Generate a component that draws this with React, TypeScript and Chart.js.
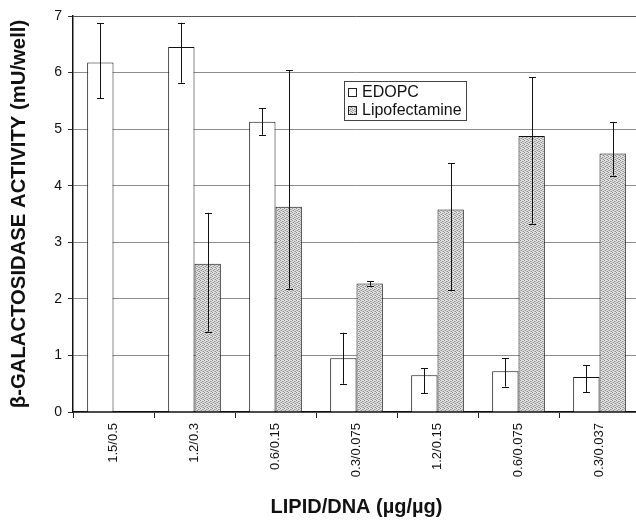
import React, { useEffect, useRef } from "react";
import { Chart, registerables } from "chart.js";

Chart.register(...registerables);

const categories = ["1.5/0.5", "1.2/0.3", "0.6/0.15", "0.3/0.075", "1.2/0.15", "0.6/0.075", "0.3/0.037"];
const edopcValues = [6.18, 6.45, 5.13, 0.95, 0.65, 0.72, 0.62];
const edopcLow = [5.55, 5.82, 4.9, 0.5, 0.33, 0.45, 0.35];
const edopcHigh = [6.87, 6.88, 5.37, 1.4, 0.77, 0.95, 0.83];
const lipoValues = [null, 2.62, 3.63, 2.27, 3.58, 4.88, 4.57];
const lipoLow = [null, 1.42, 2.18, 2.23, 2.15, 3.33, 4.18];
const lipoHigh = [null, 3.52, 6.04, 2.31, 4.4, 5.92, 5.12];
const yTicks = [0, 1, 2, 3, 4, 5, 6, 7];
const seriesNames = ["EDOPC", "Lipofectamine"];
const xTitle = "LIPID/DNA (\u00b5g/\u00b5g)";
const yTitle = "\u03b2-GALACTOSIDASE ACTIVITY (mU/well)";

function makePattern(): CanvasPattern | string {
  const c = document.createElement("canvas");
  c.width = 4;
  c.height = 4;
  const ctx = c.getContext("2d");
  if (!ctx) return "#c8c8c8";
  ctx.fillStyle = "#e0e0e0";
  ctx.fillRect(0, 0, 4, 4);
  ctx.fillStyle = "#909090";
  const dots = [[0, 0], [2, 1], [1, 2], [3, 3]];
  dots.forEach(([x, y]) => ctx.fillRect(x, y, 1, 1));
  ctx.fillStyle = "#bcbcbc";
  [[2, 3], [0, 2], [3, 1]].forEach(([x, y]) => ctx.fillRect(x, y, 1, 1));
  const p = ctx.createPattern(c, "repeat");
  return p || "#c8c8c8";
}

const errorBarPlugin = {
  id: "errorBars",
  afterDatasetsDraw(chart: any) {
    const ctx = chart.ctx;
    const yScale = chart.scales.y;
    const lows = [edopcLow, lipoLow];
    const highs = [edopcHigh, lipoHigh];
    ctx.save();
    ctx.strokeStyle = "#111";
    ctx.lineWidth = 1;
    chart.data.datasets.forEach((_ds: any, di: number) => {
      const meta = chart.getDatasetMeta(di);
      meta.data.forEach((bar: any, i: number) => {
        const lo = lows[di][i];
        const hi = highs[di][i];
        if (lo == null || hi == null) return;
        const x = Math.round(bar.x) + 0.5;
        const y1 = yScale.getPixelForValue(lo);
        const y2 = yScale.getPixelForValue(hi);
        ctx.beginPath();
        ctx.moveTo(x, y1);
        ctx.lineTo(x, y2);
        ctx.moveTo(x - 3.5, Math.round(y1) + 0.5);
        ctx.lineTo(x + 3.5, Math.round(y1) + 0.5);
        ctx.moveTo(x - 3.5, Math.round(y2) + 0.5);
        ctx.lineTo(x + 3.5, Math.round(y2) + 0.5);
        ctx.stroke();
      });
    });
    ctx.restore();
  },
};

const legendPlugin = {
  id: "boxLegend",
  afterDraw(chart: any) {
    const ctx = chart.ctx;
    const left = 344.5;
    const top = 81.5;
    const w = 122;
    const h = 39;
    ctx.save();
    ctx.fillStyle = "#ffffff";
    ctx.fillRect(left, top, w, h);
    ctx.strokeStyle = "#444";
    ctx.lineWidth = 1;
    ctx.strokeRect(left, top, w, h);
    ctx.font = "16px 'Liberation Sans', Arial, sans-serif";
    ctx.textBaseline = "middle";
    ctx.textAlign = "left";
    const fills = chart.data.datasets.map((d: any) => d.backgroundColor);
    seriesNames.forEach((name, i) => {
      const cy = 92 + i * 18;
      ctx.fillStyle = fills[i];
      ctx.fillRect(348, cy - 4, 8, 8);
      ctx.strokeStyle = "#222";
      ctx.strokeRect(348.5, cy - 3.5, 8, 8);
      ctx.fillStyle = "#111";
      ctx.fillText(name, 362, cy + 1);
    });
    ctx.restore();
  },
};

export default function App() {
  const ref = useRef<HTMLCanvasElement>(null);
  useEffect(() => {
    if (!ref.current) return;
    const pattern = makePattern();
    const chart = new Chart(ref.current, {
      type: "bar",
      data: {
        labels: categories,
        datasets: [
          {
            label: seriesNames[0],
            data: edopcValues,
            backgroundColor: "#ffffff",
            borderColor: "#111",
            borderWidth: 1,
            categoryPercentage: 0.65,
            barPercentage: 1.0,
          },
          {
            label: seriesNames[1],
            data: lipoValues as any,
            backgroundColor: pattern as any,
            borderColor: "#111",
            borderWidth: 1,
            categoryPercentage: 0.65,
            barPercentage: 1.0,
          },
        ],
      },
      options: {
        responsive: false,
        animation: false,
        events: [],
        layout: { padding: { top: 16, right: 0, left: 0, bottom: 0 } },
        plugins: {
          legend: { display: false },
          tooltip: { enabled: false },
        },
        scales: {
          x: {
            offset: true,
            grid: {
              display: true,
              drawOnChartArea: false,
              drawTicks: true,
              tickLength: 6,
              color: "#222",
              offset: true,
            },
            border: { display: true, color: "#111", width: 1.5 },
            ticks: {
              minRotation: 90,
              maxRotation: 90,
              color: "#111",
              padding: 5,
              font: { family: "'Liberation Sans', Arial, sans-serif", size: 13 },
            },
            title: {
              display: true,
              text: xTitle,
              color: "#111",
              font: { family: "'Liberation Sans', Arial, sans-serif", size: 20, weight: "bold" },
              padding: { top: 0, bottom: 4 },
            },
            afterFit(scale: any) {
              scale.height = 111;
            },
          },
          y: {
            min: 0,
            max: 7,
            afterBuildTicks(scale: any) {
              scale.ticks = yTicks.map((v) => ({ value: v }));
            },
            grid: {
              color: (c: any) => (c.tick && c.tick.value === 7 ? "#555" : "#8c8c8c"),
              tickLength: 5,
              tickColor: "#333",
            },
            border: { display: true, color: "#111", width: 1.5 },
            ticks: {
              color: "#111",
              padding: 6,
              font: { family: "'Liberation Sans', Arial, sans-serif", size: 14 },
            },
            title: {
              display: true,
              text: yTitle,
              color: "#111",
              font: { family: "'Liberation Sans', Arial, sans-serif", size: 20.3, weight: "bold" },
              padding: { top: 7, bottom: 0 },
            },
            afterFit(scale: any) {
              scale.width = 73;
            },
          },
        },
      },
      plugins: [errorBarPlugin, legendPlugin],
    });
    return () => chart.destroy();
  }, []);
  return (
    <div style={{ position: "fixed", left: 0, top: 0, width: 636, height: 523, overflow: "hidden", background: "#fff" }}>
      <canvas ref={ref} width={640} height={523} style={{ display: "block" }} />
    </div>
  );
}
